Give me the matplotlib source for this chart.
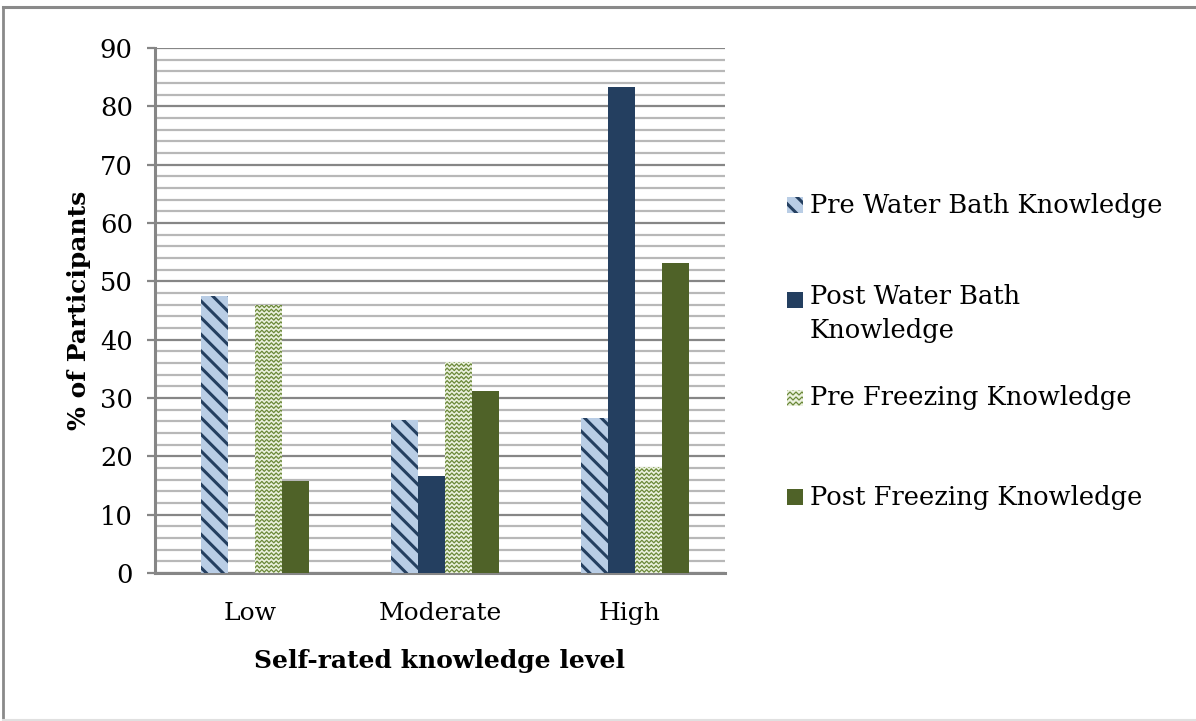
import numpy as np
import matplotlib
matplotlib.use("Agg")
import matplotlib.pyplot as plt
from matplotlib.patches import Rectangle
from matplotlib.lines import Line2D

plt.rcParams['font.family'] = ['DejaVu Serif']
plt.rcParams['hatch.linewidth'] = 2.2

levels = ["Low", "Moderate", "High"]
series = ["Pre Water Bath Knowledge", "Post Water Bath\nKnowledge",
          "Pre Freezing Knowledge", "Post Freezing Knowledge"]
pre_water = [47.5, 26.2, 26.5]
post_water = [0.0, 16.7, 83.3]
pre_freeze = [46.0, 36.2, 18.2]
post_freeze = [15.8, 31.2, 53.2]

navy = "#243f60"
light_blue = "#b9cde5"
olive = "#4f6228"
light_green = "#ebf1de"
zig_color = "#6a8838"

fig = plt.figure(figsize=(11.96, 7.21), dpi=100)
ax = fig.add_axes([155 / 1196, 1 - 573 / 721, 570 / 1196, 525 / 721])

x = np.arange(len(levels))
w = 0.142
off = 0.025

b1 = ax.bar(x - 1.5 * w + off, pre_water, w, facecolor=light_blue, edgecolor=navy,
            linewidth=0, hatch='\\\\', zorder=3)
b2 = ax.bar(x - 0.5 * w + off, post_water, w, color=navy, linewidth=0, zorder=3)
b3 = ax.bar(x + 0.5 * w + off, pre_freeze, w, color=light_green, linewidth=0, zorder=3)
b4 = ax.bar(x + 1.5 * w + off, post_freeze, w, color=olive, linewidth=0, zorder=3)


def zigzag(ax_, rect, transform, step_y, step_x, amp, lw):
    # zigzag texture clipped to the rectangle
    x0, y0 = rect.get_x(), rect.get_y()
    x1, y1 = x0 + rect.get_width(), y0 + rect.get_height()
    xs = np.arange(x0 - step_x, x1 + 2 * step_x, step_x)
    for yy in np.arange(y0 + step_y / 2, y1 + step_y, step_y):
        ys = yy + amp * np.where(np.arange(len(xs)) % 2 == 0, 1, -1)
        ln = Line2D(xs, ys, color=zig_color, lw=lw, transform=transform, zorder=4)
        ax_.add_artist(ln) if ax_ is not None else fig.add_artist(ln)
        ln.set_clip_path(rect)


for r in b3:
    zigzag(ax, r, ax.transData, 0.72, 0.0125, 0.22, 0.9)

ax.set_xlim(-0.5, 2.5)
ax.set_ylim(0, 90)
ax.set_yticks(np.arange(0, 91, 10))
ax.set_yticks(np.arange(0, 91, 2), minor=True)
ax.set_xticks(x)
ax.set_xticklabels(levels)
ax.grid(axis='y', which='major', color='#868686', lw=1.6, zorder=1)
ax.grid(axis='y', which='minor', color='#b8b8b8', lw=1.6, zorder=1)
ax.tick_params(axis='y', which='major', length=6, width=1.6, color='#868686',
               labelsize=18.5, pad=10)
ax.tick_params(axis='y', which='minor', length=0)
ax.tick_params(axis='x', length=0, labelsize=18, pad=21)
for s in ['top', 'right']:
    ax.spines[s].set_visible(False)
for s in ['left', 'bottom']:
    ax.spines[s].set_color('#868686')
    ax.spines[s].set_linewidth(2.2)

ax.set_ylabel("% of Participants", fontsize=18, fontweight='bold', labelpad=6)
ax.set_xlabel("Self-rated knowledge level", fontsize=18, fontweight='bold', labelpad=17)

# legend drawn by hand to keep the uneven spacing
leg_y = [205, 300, 398, 497]
styles = [dict(facecolor=light_blue, edgecolor=navy, linewidth=0, hatch='\\\\'),
          dict(facecolor=navy, linewidth=0),
          dict(facecolor=light_green, linewidth=0),
          dict(facecolor=olive, linewidth=0)]
for i, (lab, st) in enumerate(zip(series, styles)):
    yc = 1 - leg_y[i] / 721
    rect = Rectangle((787 / 1196, yc - 8 / 721), 16 / 1196, 16 / 721,
                     transform=fig.transFigure, **st)
    fig.add_artist(rect)
    if i == 2:
        zigzag(None, rect, fig.transFigure, 5 / 721, 3 / 1196, 1.5 / 721, 0.9)
    fig.text(810 / 1196, yc, lab, fontsize=18.5, va='center' if i != 1 else 'top',
             ha='left', linespacing=1.45)

# second label has two lines, first line sits at the marker
fig.texts[1].set_y(1 - 284 / 721)

# outer border
fig.add_artist(Line2D([3 / 1196, 1], [1 - 7 / 721, 1 - 7 / 721], color='#8a8a8a', lw=2.2,
                      transform=fig.transFigure))
fig.add_artist(Line2D([3.5 / 1196, 3.5 / 1196], [0.002, 1 - 7 / 721], color='#8a8a8a', lw=2.0,
                      transform=fig.transFigure))
fig.add_artist(Line2D([3 / 1196, 1], [1 / 721, 1 / 721], color='#e0e0e0', lw=1.5,
                      transform=fig.transFigure))

fig.savefig("out.png", dpi=100)
